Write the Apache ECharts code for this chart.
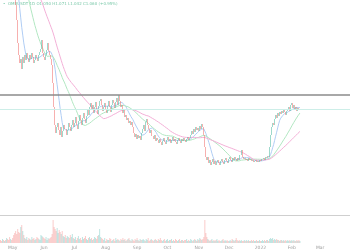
<!DOCTYPE html>
<html><head><meta charset="utf-8">
<script src="https://cdn.jsdelivr.net/npm/echarts@6/dist/echarts.min.js"></script>
<style>html,body{margin:0;padding:0;background:#fff}#c{width:350px;height:250px}</style>
</head><body><div id="c"></div>
<script>
// ---- data ----
const startDate = '2021-04-19';
const dayCount = 346;
const legendText = '•  OMBUSDT 1D O1.050 H1.071 L1.042 C1.060 (+0.95%)';
// closes before the visible range (used only for the moving averages)
const prefixCloses = [3.40,3.32,3.45,3.30,3.36,3.25,3.33,3.20,3.28,3.18,3.26,3.15,3.22,3.10,3.18,3.08,3.15,3.05,3.12,3.02,3.10,3.00,3.08,2.98,3.05,2.96,3.04,2.95,3.02,2.94,3.00,2.92,2.98,3.06,3.12,3.04,3.10,3.00,3.08,2.98,3.05,2.96,3.02,3.10,3.04,2.98,3.06,3.00,2.94,2.98];
const closes = [
 2.90,2.80,2.86,2.72,2.76,2.62,2.66,2.55,2.50,2.46,2.52,2.40,2.36,2.30,
 2.20,2.10,1.95,1.72,1.60,1.52,1.56,1.46,
 1.58,1.52,1.60,1.55,1.62,1.57,1.53,1.60,1.56,1.62,1.58,1.52,1.55,1.60,1.57,1.54,1.60,1.63,1.66,1.75,1.62,1.58,1.55,1.60,1.65,1.72,1.64,1.60,1.56,1.50,
 1.32,1.08,0.90,0.82,0.88,
 0.92,0.85,0.80,0.88,0.78,0.84,0.90,0.86,0.80,0.85,0.92,0.88,0.84,0.90,
 0.95,0.88,0.92,0.98,0.90,0.86,0.94,1.00,0.95,0.90,0.97,1.02,0.96,0.92,0.99,1.05,1.00,1.08,
 1.12,1.05,1.10,1.02,1.08,1.13,1.06,1.01,1.09,1.14,
 1.16,1.10,1.04,1.08,
 1.12,1.06,1.02,1.09,1.14,1.08,1.03,1.10,1.15,1.12,
 1.07,1.13,1.17,1.10,1.20,
 1.14,1.08,1.10,1.02,1.05,0.98,1.00,0.95,0.97,0.92,0.94,0.90,0.93,0.88,
 0.82,0.78,0.81,0.76,0.80,0.77,0.79,0.75,0.82,
 0.86,0.90,0.84,0.93,0.96,0.90,
 0.86,0.82,0.85,0.79,0.76,0.80,0.74,0.77,
 0.75,0.72,0.76,0.73,0.70,0.74,0.77,0.73,0.71,0.75,0.78,0.74,0.76,
 0.72,0.75,0.78,0.74,0.76,0.73,0.71,0.75,0.77,0.74,0.72,0.76,0.74,0.77,0.75,0.73,0.76,0.78,0.75,0.77,
 0.80,0.84,0.81,0.86,0.83,0.88,0.85,0.87,0.84,0.89,0.86,0.91,0.88,
 0.80,0.68,0.58,0.55,
 0.58,0.52,0.55,0.50,0.53,0.56,0.51,0.54,0.50,0.53,0.55,0.52,0.50,0.54,0.56,0.53,0.51,0.55,0.57,0.54,0.52,0.56,0.58,0.55,0.53,0.57,0.55,0.58,0.56,0.54,0.57,0.55,
 0.60,0.65,0.58,0.56,
 0.57,0.55,0.56,0.54,0.57,0.55,0.56,0.54,0.55,0.53,0.54,0.55,0.53,0.54,0.53,0.55,0.54,0.56,
 0.56,0.57,0.55,0.58,0.57,0.59,0.58,
 0.68,0.80,0.88,0.92,0.90,
 0.96,1.00,0.97,1.02,0.99,1.03,
 1.01,1.04,1.02,1.05,1.03,1.00,1.04,1.06,
 1.08,1.04,1.10,1.12,1.07,1.10,1.06,
 1.08,1.04,1.07,1.05,1.06
];
const volumes = [
 3,2,4,3,2,3,5,4,3,6,4,3,5,
 8,10,12,9,14,11,10,16,18,12,8,
 5,4,6,3,5,4,3,6,4,5,3,4,6,5,4,3,
 8,7,6,
 5,4,6,3,5,4,5,6,
 9,23,16,14,12,15,10,13,11,9,12,
 7,6,8,5,7,6,5,8,6,9,
 5,4,6,3,5,7,4,5,3,6,4,5,7,4,3,5,6,4,5,3,4,6,5,4,7,
 8,14,6,5,
 4,3,5,2,4,3,3,5,4,2, 3,4,2,5,3,4,3,2,4,3, 5,3,4,2,3,4,5,3,2,4, 3,2,4,3,5,3,2,4,3,3, 4,3,2,4,3,5,2,3,4,3,
 2,3,4,3,2,4,3,5,3,2, 3,4,2,3,4,2,3,3,4,2, 3,2,4,3,2,3,4,2,3,3, 2,3,3,4,2,3,2,4,3,2, 3,4,3,2,4,3,5,4,3,4,
 6,23,10,6,4,
 3,2,3,4,2,3,2,3,4,2, 3,2,2,3,4,2,3,2,3,2, 2,3,2,4,3,2,3,5,3,2, 3,2,3,2,2,3,2,3,2,3, 2,2,3,2,3,2,2,3,2,2,
 3,2,2,3,2,3,2,3,3,2, 4,5,4,5,3,4,3,4,3,3, 2,3,3,2,3,2,3,2,3,2, 3,2,3,2,3,2,2,3,2,3, 2
];
const maPeriods = [10, 30, 50];
const keyLevel = 1.195;
const monthNames = ['Jan','Feb','Mar','Apr','May','Jun','Jul','Aug','Sep','Oct','Nov','Dec'];

// ---- build ----
const UP = '#5cbfa9', DOWN = '#f27a78';
const cats = [];
const d0 = new Date(startDate + 'T00:00:00Z');
for (let i = 0; i < dayCount; i++) {
  const d = new Date(d0.getTime() + i * 86400000);
  cats.push(d.toISOString().slice(0, 10));
}
const all = prefixCloses.concat(closes);
const P = prefixCloses.length;
const candles = closes.map((c, i) => {
  const o = all[P + i - 1];
  return [o, c, Math.min(o, c), Math.max(o, c)];
});
function sma(n) {
  return closes.map((_, i) => {
    const j = P + i;
    let s = 0;
    for (let k = j - n + 1; k <= j; k++) s += all[k];
    return +(s / n).toFixed(4);
  });
}
const vol = volumes.map((v, i) => ({
  value: v,
  itemStyle: { color: candles[i][1] >= candles[i][0] ? 'rgba(38,166,154,0.3)' : 'rgba(239,83,80,0.3)' }
}));
const maColors = ['#b0cdf4', '#b2e7c2', '#f3b0d7'];
const lastClose = closes[closes.length - 1];

const chart = echarts.init(document.getElementById('c'), null, { renderer: 'canvas' });
chart.setOption({
  animation: false,
  backgroundColor: '#fff',
  graphic: [{ type: 'text', left: 3, top: 2, style: { text: legendText, fontSize: 4, fill: '#7cc9aa', fontFamily: 'DejaVu Sans' } }],
  grid: [
    { left: 0, right: 0, top: 0, height: 218 },
    { left: 0, right: 0, top: 218, height: 25 }
  ],
  xAxis: [
    { type: 'category', data: cats, gridIndex: 0, boundaryGap: true,
      axisLine: { show: true, lineStyle: { color: '#cfcfcf', width: 1 } },
      axisTick: { show: false }, axisLabel: { show: false }, splitLine: { show: false } },
    { type: 'category', data: cats, gridIndex: 1, boundaryGap: true,
      axisLine: { show: false }, axisTick: { show: false }, splitLine: { show: false },
      axisLabel: {
        interval: (idx, val) => val.slice(8) === '01',
        formatter: (val) => { const m = +val.slice(5, 7); return m === 1 ? val.slice(0, 4) : monthNames[m - 1]; },
        fontSize: 4.5, color: '#a0a0a0', margin: 2, fontFamily: 'DejaVu Sans'
      } }
  ],
  yAxis: [
    { type: 'value', gridIndex: 0, min: -0.03, max: 2.15, show: false, splitLine: { show: false } },
    { type: 'value', gridIndex: 1, min: 0, max: 25, show: false, splitLine: { show: false } }
  ],
  series: [
    { type: 'bar', xAxisIndex: 1, yAxisIndex: 1, data: vol, barWidth: '80%', barGap: '0%' },
    ...maPeriods.map((n, k) => ({
      type: 'line', data: sma(n), xAxisIndex: 0, yAxisIndex: 0, showSymbol: false, clip: true,
      lineStyle: { color: maColors[k], width: 1 }, z: 3
    })),
    { type: 'candlestick', data: candles, xAxisIndex: 0, yAxisIndex: 0, clip: true, barWidth: '80%', z: 4,
      itemStyle: { color: UP, color0: DOWN, borderColor: UP, borderColor0: DOWN, borderWidth: 0.6 },
      markLine: { silent: true, symbol: 'none', label: { show: false },
        data: [
          { yAxis: keyLevel, lineStyle: { color: '#8b8b8b', width: 1.5, type: 'solid' } },
          { yAxis: lastClose, lineStyle: { color: '#cdeee8', width: 1, type: 'solid' } }
        ] } }
  ]
});
</script></body></html>
